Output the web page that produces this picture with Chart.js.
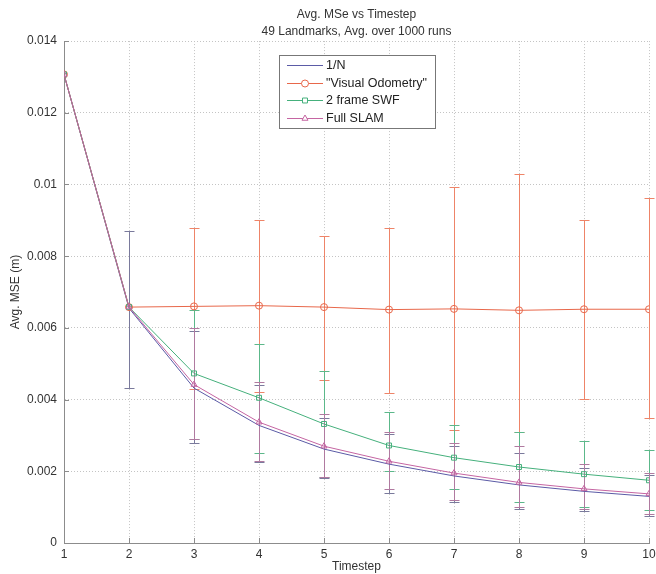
<!DOCTYPE html>
<html lang="en">
<head>
<meta charset="UTF-8">
<title>Avg. MSe vs Timestep</title>
<script src="https://cdn.jsdelivr.net/npm/chart.js@4.4.1/dist/chart.umd.min.js"></script>
<style>
  html, body { margin: 0; padding: 0; background: #fff; }
  #wrap { width: 656px; height: 574px; }
</style>
</head>
<body>
<div id="wrap"><canvas id="mseChart" width="656" height="574"></canvas></div>
<script>
// data
const steps = [1, 2, 3, 4, 5, 6, 7, 8, 9, 10];
const seriesNames = ['1/N', '"Visual Odometry"', '2 frame SWF', 'Full SLAM'];

const invN     = [0.01307, 0.00655, 0.00432, 0.00328, 0.00262, 0.00220, 0.00187, 0.00162, 0.00144, 0.00130];
const invNLow  = [null, 0.00432, 0.00280, 0.00225, 0.00180, 0.00140, 0.00115, 0.00095, 0.00090, 0.00076];
const invNHigh = [null, 0.00870, 0.00590, 0.00440, 0.00350, 0.00305, 0.00270, 0.00250, 0.00210, 0.00190];

const vo     = [0.01307, 0.00658, 0.00660, 0.00662, 0.00658, 0.00651, 0.00653, 0.00649, 0.00652, 0.00652];
const voLow  = [null, null, 0.00430, 0.00420, 0.00456, 0.00418, 0.00315, 0.00310, 0.00403, 0.00350];
const voHigh = [null, null, 0.00880, 0.00900, 0.00857, 0.00880, 0.00993, 0.01030, 0.00900, 0.00962];

const swf     = [0.01307, 0.00658, 0.00473, 0.00405, 0.00332, 0.00272, 0.00238, 0.00212, 0.00192, 0.00175];
const swfLow  = [null, null, 0.00290, 0.00250, 0.00184, 0.00200, 0.00150, 0.00115, 0.00100, 0.00093];
const swfHigh = [null, null, 0.00650, 0.00555, 0.00480, 0.00365, 0.00330, 0.00310, 0.00284, 0.00259];

const slam     = [0.01307, 0.00658, 0.00442, 0.00337, 0.00270, 0.00228, 0.00195, 0.00169, 0.00151, 0.00137];
const slamLow  = [null, null, 0.00290, 0.00230, 0.00185, 0.00150, 0.00120, 0.00100, 0.00095, 0.00080];
const slamHigh = [null, null, 0.00600, 0.00450, 0.00360, 0.00310, 0.00280, 0.00270, 0.00220, 0.00195];

const yTicks = [0, 0.002, 0.004, 0.006, 0.008, 0.01, 0.012, 0.014];

const FONT = '"Liberation Sans", Arial, Helvetica, sans-serif';
const colors = ['#5b5ba6', '#e8674a', '#45b07c', '#c565a2'];
const barColors = ['#7a7a9c', '#ee8468', '#5cb88a', '#b07aa0'];
const markers = [false, 'circle', 'rect', 'triangle'];

function pts(vals) {
  return steps.map((s, i) => ({ x: s, y: vals[i] }));
}

function makeSet(i, vals, low, high) {
  return {
    label: seriesNames[i],
    data: pts(vals),
    errLow: low,
    errHigh: high,
    errColor: barColors[i],
    borderColor: colors[i],
    backgroundColor: 'rgba(0,0,0,0)',
    borderWidth: 1,
    tension: 0,
    fill: false,
    pointStyle: markers[i] || 'circle',
    pointRadius: markers[i] ? 3.5 : 0,
    pointBorderWidth: 1,
    pointBorderColor: colors[i],
    pointBackgroundColor: 'rgba(0,0,0,0)',
    order: 4 - i
  };
}

// vertical error bars with caps
const errorBars = {
  id: 'errorBars',
  beforeDatasetsDraw(chart) {
    const { ctx, scales: { x, y } } = chart;
    ctx.save();
    ctx.lineWidth = 1;
    chart.data.datasets.forEach(ds => {
      ctx.strokeStyle = ds.errColor;
      ctx.beginPath();
      steps.forEach((s, i) => {
        const lo = ds.errLow[i], hi = ds.errHigh[i];
        if (lo == null || hi == null) return;
        const px = Math.round(x.getPixelForValue(s)) + 0.5;
        const pLo = Math.round(y.getPixelForValue(lo)) + 0.5;
        const pHi = Math.round(y.getPixelForValue(hi)) + 0.5;
        ctx.moveTo(px, pLo); ctx.lineTo(px, pHi);
        ctx.moveTo(px - 5, pLo); ctx.lineTo(px + 5, pLo);
        ctx.moveTo(px - 5, pHi); ctx.lineTo(px + 5, pHi);
      });
      ctx.stroke();
    });
    ctx.restore();
  }
};

// matlab style tick marks pointing into the plot
const innerTicks = {
  id: 'innerTicks',
  afterDatasetsDraw(chart) {
    const { ctx, scales: { x, y }, chartArea: a } = chart;
    ctx.save();
    ctx.strokeStyle = '#8c8c8c';
    ctx.lineWidth = 1;
    ctx.beginPath();
    x.ticks.forEach(t => {
      const px = Math.round(x.getPixelForValue(t.value)) + 0.5;
      ctx.moveTo(px, a.bottom); ctx.lineTo(px, a.bottom - 5);
    });
    y.ticks.forEach(t => {
      const py = Math.round(y.getPixelForValue(t.value)) + 0.5;
      ctx.moveTo(a.left, py); ctx.lineTo(a.left + 5, py);
    });
    ctx.stroke();
    ctx.restore();
  }
};

// boxed legend inside the axes
const boxLegend = {
  id: 'boxLegend',
  afterDraw(chart) {
    const { ctx } = chart;
    const left = 279, top = 55, w = 156, h = 73, rowH = 17.7;
    ctx.save();
    ctx.fillStyle = '#fff';
    ctx.fillRect(left, top, w, h);
    ctx.strokeStyle = '#777';
    ctx.lineWidth = 1;
    ctx.strokeRect(left + 0.5, top + 0.5, w, h);
    ctx.font = '12.5px ' + FONT;
    ctx.textBaseline = 'middle';
    chart.data.datasets.forEach((ds, i) => {
      const yy = Math.round(top + 10 + i * rowH) + 0.5;
      ctx.strokeStyle = ds.borderColor;
      ctx.lineWidth = 1;
      ctx.beginPath();
      ctx.moveTo(left + 8, yy); ctx.lineTo(left + 44, yy);
      ctx.stroke();
      if (markers[i]) {
        ctx.fillStyle = '#fff';
        Chart.helpers.drawPoint(ctx, {
          pointStyle: markers[i], radius: 3.5, borderWidth: 1, rotation: 0
        }, left + 26, yy);
      }
      ctx.fillStyle = '#222';
      ctx.fillText(ds.label, left + 47, yy);
    });
    ctx.restore();
  }
};

new Chart(document.getElementById('mseChart'), {
  type: 'line',
  data: {
    datasets: [
      makeSet(0, invN, invNLow, invNHigh),
      makeSet(1, vo, voLow, voHigh),
      makeSet(2, swf, swfLow, swfHigh),
      makeSet(3, slam, slamLow, slamHigh)
    ]
  },
  options: {
    responsive: false,
    animation: false,
    devicePixelRatio: 1,
    layout: { padding: { top: 0, right: 7, bottom: 0, left: 0 } },
    plugins: {
      legend: { display: false },
      tooltip: { enabled: false },
      title: {
        display: true,
        fullSize: false,
        text: ['Avg. MSe vs Timestep', '49 Landmarks, Avg. over 1000 runs'],
        color: '#333',
        font: { family: FONT, size: 12, weight: 'normal', lineHeight: 1.42 },
        padding: { top: 6.5, bottom: 0.5 }
      }
    },
    scales: {
      x: {
        type: 'linear',
        min: 1,
        max: 10,
        ticks: { stepSize: 1, color: '#333', padding: 4, font: { family: FONT, size: 12 } },
        grid: { color: '#c4c4c4', drawTicks: false },
        border: { display: true, color: '#8c8c8c', width: 1, dash: [1, 2] },
        title: { display: true, text: 'Timestep', color: '#333', font: { family: FONT, size: 12 }, padding: { top: 0, bottom: 0 } },
        afterFit(scale) { scale.height = 31; scale.paddingLeft = 0; scale.paddingRight = 0; }
      },
      y: {
        type: 'linear',
        min: 0,
        max: 0.014,
        afterBuildTicks(scale) { scale.ticks = yTicks.map(v => ({ value: v })); },
        ticks: {
          color: '#333', padding: 7, font: { family: FONT, size: 12 },
          callback: v => String(+v.toFixed(3))
        },
        grid: { color: '#c4c4c4', drawTicks: false },
        border: { display: true, color: '#8c8c8c', width: 1, dash: [1, 2] },
        title: { display: true, text: 'Avg. MSE (m)', color: '#333', font: { family: FONT, size: 12 }, padding: { top: 8, bottom: 0 } },
        afterFit(scale) { scale.width = 64; scale.paddingTop = 0; scale.paddingBottom = 0; }
      }
    }
  },
  plugins: [errorBars, innerTicks, boxLegend]
});
</script>
</body>
</html>
